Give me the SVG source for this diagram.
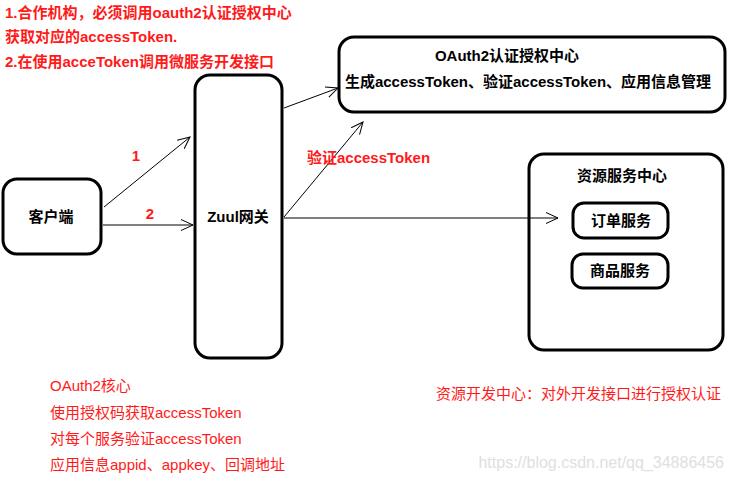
<svg xmlns="http://www.w3.org/2000/svg" width="734" height="480" viewBox="0 0 734 480">
<defs>
<style>
.box{fill:#fff;stroke:#000;stroke-width:3}
.lbl{font-family:"Liberation Sans","Noto Sans CJK SC",sans-serif;font-weight:bold;font-size:15px;fill:#000}
.red{font-family:"Liberation Sans","Noto Sans CJK SC",sans-serif;font-weight:bold;font-size:15px;fill:#ff1a1a}
.note{font-family:"Liberation Sans","Noto Sans CJK SC",sans-serif;font-size:15px;fill:#ff1a1a}
.conn{stroke:#000;stroke-width:1;fill:none}
</style>
<marker id="arr" markerUnits="userSpaceOnUse" markerWidth="14" markerHeight="12" refX="12" refY="6" orient="auto">
<path d="M0,0.5 L12,6 L0,11.5" fill="none" stroke="#000" stroke-width="1"/>
</marker>
</defs>
<rect width="734" height="480" fill="#fff"/>

<g id="top-notes">
<text class="red" x="5" y="18">1.合作机构，必须调用oauth2认证授权中心</text>
<text class="red" x="5" y="42">获取对应的accessToken.</text>
<text class="red" x="5" y="67">2.在使用acceToken调用微服务开发接口</text>
</g>

<g id="client">
<rect class="box" x="3" y="179" width="98" height="75" rx="14"/>
<text class="lbl" x="51" y="222" text-anchor="middle">客户端</text>
</g>

<g id="zuul">
<rect class="box" x="195" y="75" width="87" height="283" rx="15"/>
<text class="lbl" x="238" y="222" text-anchor="middle">Zuul网关</text>
</g>

<g id="oauth">
<rect class="box" x="339" y="37" width="386" height="75" rx="15"/>
<text class="lbl" x="507" y="61" text-anchor="middle">OAuth2认证授权中心</text>
<text class="lbl" x="528" y="87" text-anchor="middle">生成accessToken、验证accessToken、应用信息管理</text>
</g>

<g id="resource">
<rect class="box" x="529" y="154" width="194" height="196" rx="15"/>
<text class="lbl" x="622" y="181" text-anchor="middle">资源服务中心</text>
</g>

<g id="order">
<rect class="box" x="573" y="203" width="95" height="35" rx="11"/>
<text class="lbl" x="621" y="226" text-anchor="middle">订单服务</text>
</g>

<g id="product">
<rect class="box" x="572" y="254" width="96" height="34" rx="11"/>
<text class="lbl" x="620" y="276" text-anchor="middle">商品服务</text>
</g>

<g id="connectors">
<line class="conn" x1="104" y1="207" x2="190" y2="137" marker-end="url(#arr)"/>
<line class="conn" x1="103" y1="225" x2="193" y2="225" marker-end="url(#arr)"/>
<line class="conn" x1="284" y1="108" x2="338" y2="88" marker-end="url(#arr)"/>
<line class="conn" x1="284" y1="217" x2="363" y2="122" marker-end="url(#arr)"/>
<line class="conn" x1="284" y1="218" x2="558" y2="218" marker-end="url(#arr)"/>
<text class="red" x="136" y="161" text-anchor="middle">1</text>
<text class="red" x="150" y="219" text-anchor="middle">2</text>
<text class="red" x="307" y="163">验证accessToken</text>
</g>

<g id="bottom-notes">
<text class="note" x="50" y="391">OAuth2核心</text>
<text class="note" x="50" y="418">使用授权码获取accessToken</text>
<text class="note" x="50" y="444">对每个服务验证accessToken</text>
<text class="note" x="50" y="470">应用信息appid、appkey、回调地址</text>
<text class="note" x="436" y="399">资源开发中心：对外开发接口进行授权认证</text>
</g>

<text x="724" y="468" text-anchor="end" font-family="Liberation Sans, sans-serif" font-size="16" fill="#e0e0e0">https://blog.csdn.net/qq_34886456</text>
</svg>
